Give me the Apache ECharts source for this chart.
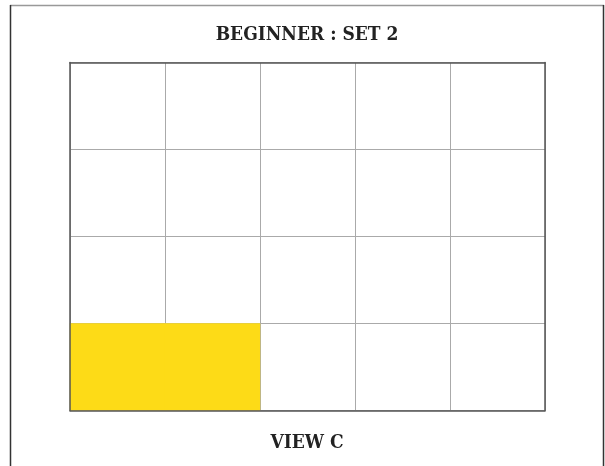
<!DOCTYPE html>
<html>
<head>
<meta charset="utf-8">
<script src="https://cdn.jsdelivr.net/npm/echarts@6/dist/echarts.min.js"></script>
<style>
  html, body { margin: 0; padding: 0; background: #fff; }
  #main { width: 605px; height: 466px; }
</style>
</head>
<body>
<div id="main"></div>
<script>
// grid columns / rows (bottom row first)
let cols = ['1', '2', '3', '4', '5'];
let rows = ['1', '2', '3', '4'];
// filled cells: [col, row]
let filled = [[0, 0], [1, 0]];
let fillColor = '#FDDB17';

let myChart = echarts.init(document.getElementById('main'));

let cells = filled.map(c => ({ value: [c[0], c[1], 1], itemStyle: { color: fillColor } }));

let fontFam = '"DejaVu Serif Condensed", "DejaVu Serif", serif';

// 框线的轴（放在最上层）
let borderAxis = {
    show: true,
    axisLine: { show: true, lineStyle: { color: '#555', width: 1.5 } },
    axisTick: { show: false },
    axisLabel: { show: false },
    splitLine: { show: false },
    z: 10
};

let option = {
    backgroundColor: '#fff',
    animation: false,
    title: [{
        text: 'BEGINNER : SET 2',
        left: 302,
        top: 21,
        textAlign: 'center',
        textStyle: { fontFamily: fontFam, fontWeight: 'bold', fontSize: 19, color: '#222' }
    }, {
        text: 'VIEW C',
        left: 302,
        top: 429,
        textAlign: 'center',
        textStyle: { fontFamily: fontFam, fontWeight: 'bold', fontSize: 19, color: '#222' }
    }],
    grid: { left: 70, right: 60, top: 62.5, bottom: 55.5 },
    xAxis: [{
        type: 'category',
        data: cols,
        boundaryGap: true,
        axisLine: { show: false },
        axisTick: { show: false },
        axisLabel: { show: false },
        splitLine: { show: true, lineStyle: { color: '#aaa', width: 1 } }
    }, Object.assign({ type: 'category', data: cols, position: 'bottom' }, borderAxis),
       Object.assign({ type: 'category', data: cols, position: 'top' }, borderAxis)],
    yAxis: [{
        type: 'category',
        data: rows,
        boundaryGap: true,
        axisLine: { show: false },
        axisTick: { show: false },
        axisLabel: { show: false },
        splitLine: { show: true, lineStyle: { color: '#aaa', width: 1 } }
    }, Object.assign({ type: 'category', data: rows, position: 'left' }, borderAxis),
       Object.assign({ type: 'category', data: rows, position: 'right' }, borderAxis)],
    series: [{
        type: 'heatmap',
        xAxisIndex: 0,
        yAxisIndex: 0,
        data: cells,
        itemStyle: { color: fillColor },
        emphasis: { disabled: true }
    }],
    graphic: [
        { type: 'line', shape: { x1: 10, y1: 5.5, x2: 604, y2: 5.5 }, style: { stroke: '#999', lineWidth: 1.5 } },
        { type: 'line', shape: { x1: 10.5, y1: 5, x2: 10.5, y2: 466 }, style: { stroke: '#333', lineWidth: 1.5 } },
        { type: 'line', shape: { x1: 603.5, y1: 5, x2: 603.5, y2: 466 }, style: { stroke: '#333', lineWidth: 1.5 } }
    ]
};
myChart.setOption(option);
</script>
</body>
</html>
